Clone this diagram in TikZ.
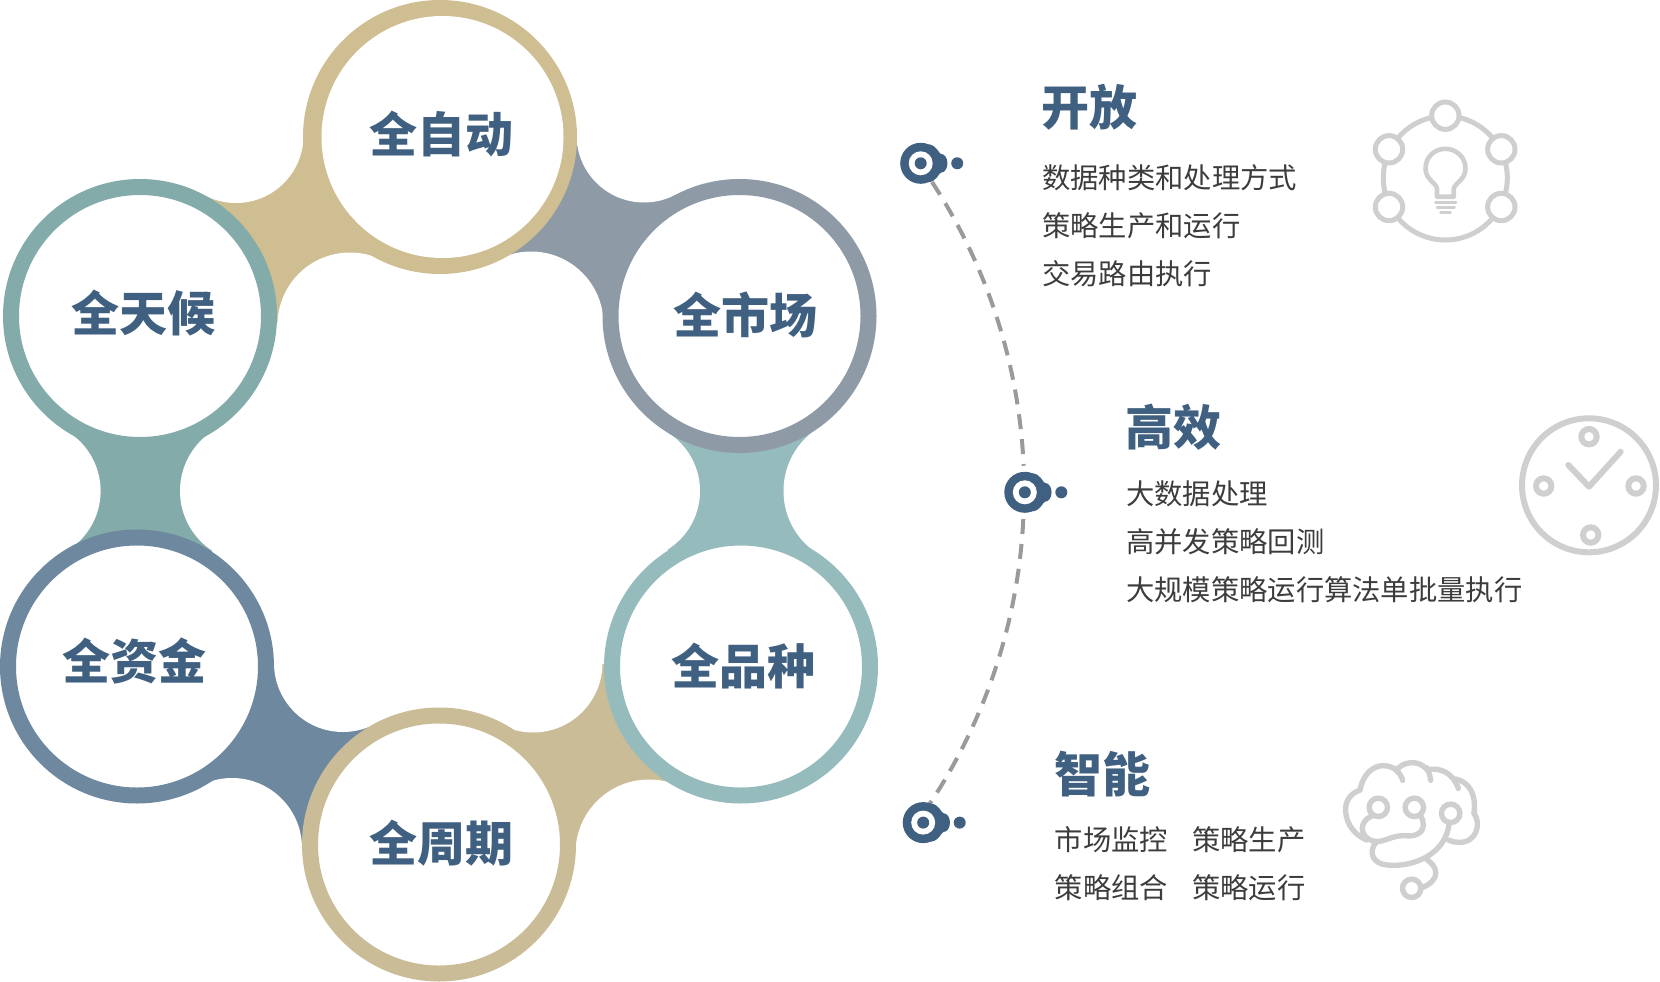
\documentclass[tikz,border=0pt]{standalone}
\usepackage{fontspec}
\newfontfamily\cjk{Noto Sans CJK SC}
\definecolor{ctan}{HTML}{CFBE91}
\definecolor{cgray}{HTML}{8E9AA5}
\definecolor{cteal}{HTML}{96BBBD}
\definecolor{csand}{HTML}{C9BC97}
\definecolor{cblue}{HTML}{6E889F}
\definecolor{csage}{HTML}{83ABA9}
\definecolor{cink}{HTML}{3F6080}
\definecolor{cbody}{HTML}{3C3C3C}
\definecolor{cicon}{HTML}{CFCFCF}
\definecolor{cdash}{HTML}{9A9A9A}
\tikzset{
  ringnode/.style={circle,draw=#1,line width=16pt,fill=white,inner sep=0pt,minimum size=258pt},
  hollow/.style={circle,fill=white,inner sep=0pt,minimum size=#1},
  bigtext/.style={inner sep=0pt,text=cink,text height=42.2pt,text depth=5.8pt,font=\cjk\bfseries\fontsize{48}{48}\selectfont},
  bodytext/.style={inner sep=0pt,anchor=west,text=cbody,text height=24.9pt,text depth=3.4pt,font=\cjk\fontsize{28.3}{28.3}\selectfont},
  icon/.style={draw=cicon,line width=5pt,line cap=round,line join=round},
  iconring/.style={circle,draw=cicon,fill=white,line width=#1,inner sep=0pt},
  pin/.pic={
    \fill[cink] (0,0) circle[radius=20.5pt];
    \fill[cink] (8,-19) .. controls (16,-18) and (18,-10) .. (20,-9.5) .. controls (29,-9) and (29,9) .. (20,9.5) .. controls (18,10) and (16,18) .. (8,19) -- cycle;
    \fill[white] (0,0) circle[radius=12pt];
    \fill[cink] (0,0) circle[radius=6pt];
    \fill[cink] (36.5,0) circle[radius=6pt];
  }
}
\begin{document}
\begin{tikzpicture}[x=1pt,y=-1pt]
\useasboundingbox (0,0) rectangle (1660,982);
% ring centres
\coordinate (pa) at (440,137);
\coordinate (pb) at (739.5,316);
\coordinate (pc) at (741,666.5);
\coordinate (pd) at (439,844.5);
\coordinate (pe) at (137,666.5);
\coordinate (pf) at (140,316);
% concave hollows
\coordinate (h1) at (236,135.5);
\coordinate (h2) at (350,325);
\coordinate (h3) at (644,135);
\coordinate (h4) at (531,324);
\coordinate (h5) at (631,491);
\coordinate (h6) at (858,491);
\coordinate (h7) at (533,663);
\coordinate (h8) at (649,853);
\coordinate (h9) at (343,663);
\coordinate (h10) at (232,848);
\coordinate (h11) at (30.6,491);
\coordinate (h12) at (251.5,491);
% bridges
\fill[ctan] (pa) -- (h1) -- (pf) -- (h2) -- cycle;
\fill[cgray] (pa) -- (h3) -- (pb) -- (h4) -- cycle;
\fill[cteal] (pb) -- (h5) -- (pc) -- (h6) -- cycle;
\fill[csand] (pd) -- (h7) -- (pc) -- (h8) -- cycle;
\fill[cblue] (pe) -- (h9) -- (pd) -- (h10) -- cycle;
\fill[csage] (pf) -- (h11) -- (pe) -- (h12) -- cycle;
\node[hollow=135pt] (c1) at (h1) {};
\node[hollow=145pt] (c2) at (h2) {};
\node[hollow=135pt] (c3) at (h3) {};
\node[hollow=145pt] (c4) at (h4) {};
\node[hollow=138pt] (c5) at (h5) {};
\node[hollow=149pt] (c6) at (h6) {};
\node[hollow=139pt] (c7) at (h7) {};
\node[hollow=147pt] (c8) at (h8) {};
\node[hollow=138pt] (c9) at (h9) {};
\node[hollow=140pt] (c10) at (h10) {};
\node[hollow=140pt] (c11) at (h11) {};
\node[hollow=143pt] (c12) at (h12) {};
% rings
\fill[ctan] (pa) circle[radius=137pt];
\node[circle,fill=white,inner sep=0pt,minimum size=242pt] (ra) at (442.5,137) {};
\node[ringnode=cgray] (rb) at (pb) {};
\node[ringnode=cteal] (rc) at (pc) {};
\node[ringnode=csand] (rd) at (pd) {};
\node[ringnode=cblue] (re) at (pe) {};
\node[ringnode=csage] (rf) at (pf) {};
\node[bigtext] (la) at (441,134) {全自动};
\node[bigtext] (lb) at (745,315) {全市场};
\node[bigtext] (lc) at (743.4,666) {全品种};
\node[bigtext] (ld) at (441,843) {全周期};
\node[bigtext] (le) at (134,661) {全资金};
\node[bigtext] (lf) at (143.5,313.5) {全天候};
% timeline
\coordinate (d1) at (932,182);
\coordinate (d3) at (1023.3,519);
\draw[cdash,line width=4pt,dash pattern=on 15pt off 10pt] (d1) arc[start angle=33.2,end angle=2.6,radius=565pt];
\draw[cdash,line width=4pt,dash pattern=on 15pt off 10pt] (d3) arc[start angle=-2.8,end angle=-33.8,radius=565pt];
\pic (m1) at (920.7,163.3) {pin};
\pic (m2) at (1024.8,492.3) {pin};
\pic (m3) at (923.2,822.6) {pin};
% right texts
\node[bigtext,anchor=west] (t1) at (1041,107) {开放};
\node[bodytext] (t11) at (1042,178) {数据种类和处理方式};
\node[bodytext] (t12) at (1042,225.5) {策略生产和运行};
\node[bodytext] (t13) at (1042,273.5) {交易路由执行};
\node[bigtext,anchor=west] (t2) at (1125,427) {高效};
\node[bodytext] (t21) at (1126,493.4) {大数据处理};
\node[bodytext] (t22) at (1126,542) {高并发策略回测};
\node[bodytext] (t23) at (1126,589.7) {大规模策略运行算法单批量执行};
\node[bigtext,anchor=west] (t3) at (1054,774.5) {智能};
\node[bodytext] (t31) at (1054.5,839.5) {市场监控};
\node[bodytext] (t32) at (1192,839.5) {策略生产};
\node[bodytext] (t33) at (1054.5,887.5) {策略组合};
\node[bodytext] (t34) at (1192,887.5) {策略运行};
% icon 1
\draw[icon] (1445.3,178) circle[radius=62pt];
\foreach \n/\xx/\yy in {a/1445.3/115.7,b/1389/149.3,c/1501.3/149.3,d/1389/207,e/1501.3/207}
  \node[iconring=5pt,minimum size=27.4pt] (i1\n) at (\xx,\yy) {};
\draw[icon,line width=4.6pt] (1437,196.7) -- (1453.7,196.7) -- (1453.7,189) .. controls (1454.5,183) and (1465.5,180) .. (1465.5,168.5) .. controls (1465.5,157) and (1456,148.8) .. (1445.3,148.8) .. controls (1434.6,148.8) and (1425.5,157) .. (1425.5,168.5) .. controls (1425.5,180) and (1437,183) .. (1437,189) -- cycle;
\draw[icon,line width=2.8pt] (1435.5,202.3) -- (1456,202.3) (1437,207.3) -- (1454.5,207.3) (1440.5,212.7) -- (1450.5,212.7);
% icon 2
\draw[icon,line width=6pt] (1589,485.3) circle[radius=67pt];
\foreach \n/\xx/\yy in {a/1589/436.7,b/1590.7/535,c/1543.7/486,d/1636/486}
  \node[iconring=6pt,minimum size=15.4pt] (i2\n) at (\xx,\yy) {};
\draw[icon,line width=6pt] (1568.3,465) -- (1589,486.7) -- (1620.7,451.7);
% icon 3
\begin{scope}[shift={(1330,745)},x=0.3333pt,y=-0.3333pt]
\tikzset{icon/.append style={line width=5.4pt}}
\draw[icon] (90,135) .. controls (55,148) and (45,175) .. (47,200) .. controls (50,240) and (75,270) .. (110,285);
\draw[icon] (90,135) .. controls (100,85) and (130,62) .. (160,62) .. controls (180,62) and (195,70) .. (205,80);
\draw[icon] (195,72) .. controls (205,82) and (215,92) .. (218,106);
\draw[icon] (200,75) .. controls (215,52) and (265,40) .. (292,75);
\draw[icon] (290,68) .. controls (297,80) and (300,92) .. (302,106);
\draw[icon] (292,75) .. controls (330,65) and (370,85) .. (385,130);
\draw[icon] (377,102) .. controls (415,110) and (440,145) .. (432,205);
\draw[icon] (432,205) .. controls (455,235) and (440,295) .. (385,292) .. controls (375,292) and (365,290) .. (355,285);
\draw[icon] (125,213) .. controls (85,230) and (90,275) .. (125,287) .. controls (160,298) and (180,270) .. (225,272) .. controls (265,278) and (295,255) .. (272,212);
\draw[icon] (140,290) .. controls (120,310) and (120,345) .. (155,357) .. controls (210,372) and (345,350) .. (358,232);
\draw[icon] (288,342) .. controls (325,365) and (335,405) .. (272,430);
\node[iconring=5.4pt,minimum size=18.4pt] (i3a) at (145,187) {};
\node[iconring=5.4pt,minimum size=18.4pt] (i3b) at (253,187) {};
\node[iconring=5.4pt,minimum size=18.4pt] (i3c) at (362,205) {};
\node[iconring=5.4pt,minimum size=18.4pt] (i3d) at (245,430) {};
\end{scope}
\end{tikzpicture}
\end{document}
